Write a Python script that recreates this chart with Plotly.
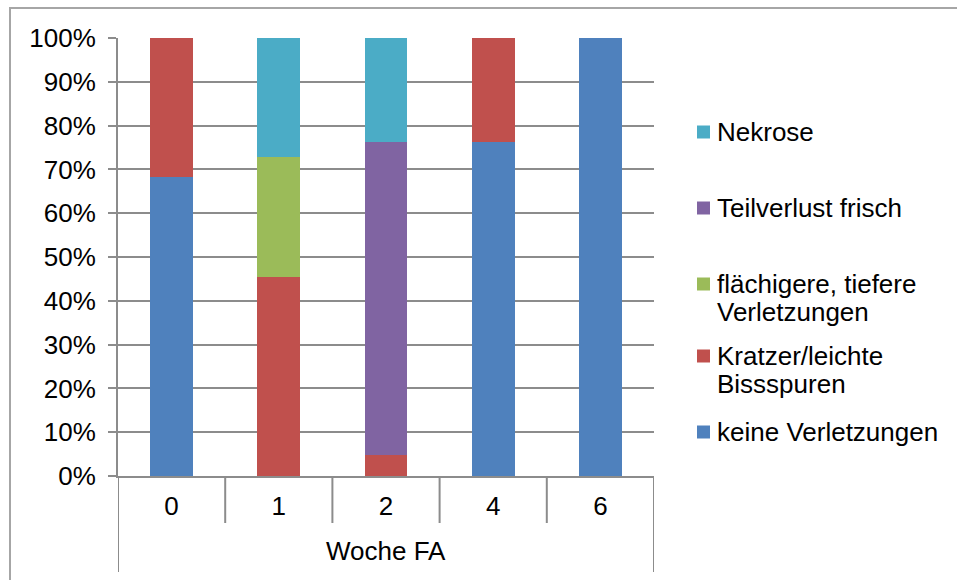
import plotly.graph_objects as go

# Wochen nach FA and share of injury classes (percent of animals)
categories = ["0", "1", "2", "4", "6"]
keine_verletzungen = [68.18, 0, 0, 76.19, 100]
kratzer = [31.82, 45.45, 4.76, 23.81, 0]
flaechig = [0, 27.27, 0, 0, 0]
teilverlust = [0, 0, 71.43, 0, 0]
nekrose = [0, 27.27, 23.81, 0, 0]
y_ticks = list(range(0, 101, 10))

series = [
    ("keine Verletzungen", keine_verletzungen, "#4F81BD"),
    ("Kratzer/leichte<br>Bissspuren", kratzer, "#C0504D"),
    ("flächigere, tiefere<br>Verletzungen", flaechig, "#9BBB59"),
    ("Teilverlust frisch", teilverlust, "#8064A2"),
    ("Nekrose", nekrose, "#4BACC6"),
]

W, H = 957, 580
L, R, T, B = 118, 654, 38, 476  # plot area in pixels
FONT = "Liberation Sans, Arial, sans-serif"
FS = 26
GRID = "#8c8c8c"


def px_x(x):
    return (x - L) / (R - L)


def px_y(y):
    return (B - y) / (B - T)


pos = list(range(len(categories)))
fig = go.Figure()
for name, vals, color in series:
    fig.add_trace(go.Bar(
        x=pos, y=vals, name=name, width=0.4,
        marker=dict(color=color, line=dict(width=0)),
        showlegend=False,
    ))

shapes = []
# outer chart frame (runs past the right and bottom edges)
shapes.append(dict(type="rect", xref="paper", yref="paper",
                   x0=px_x(10), x1=px_x(1000), y0=px_y(8), y1=px_y(640),
                   line=dict(color="#a6a6a6", width=2), layer="below"))
# category dividers below the axis
for i in range(len(categories) + 1):
    edge = i - 0.5
    outer = i in (0, len(categories))
    shapes.append(dict(type="line", xref="x", yref="paper",
                       x0=edge, x1=edge, y0=0, y1=px_y(572 if outer else 523),
                       line=dict(color=GRID, width=2)))

annotations = [dict(text="Woche FA", xref="paper", yref="paper",
                    x=0.5, y=px_y(551), showarrow=False,
                    xanchor="center", yanchor="middle",
                    font=dict(family=FONT, size=FS, color="#000"))]

# legend, top entry first
legend_rows = [
    ("Nekrose", "#4BACC6", [132]),
    ("Teilverlust frisch", "#8064A2", [208]),
    ("flächigere, tiefere", "#9BBB59", [284, 312], "Verletzungen"),
    ("Kratzer/leichte", "#C0504D", [356, 384], "Bissspuren"),
    ("keine Verletzungen", "#4F81BD", [432]),
]
for row in legend_rows:
    label, color, ys = row[0], row[1], row[2]
    lines = [label] + list(row[3:])
    shapes.append(dict(type="rect", xref="paper", yref="paper",
                       x0=px_x(697), x1=px_x(710),
                       y0=px_y(ys[0] - 6.5), y1=px_y(ys[0] + 6.5),
                       fillcolor=color, line=dict(width=0)))
    for txt, yy in zip(lines, ys):
        annotations.append(dict(text=txt, xref="paper", yref="paper",
                                x=px_x(715), y=px_y(yy), showarrow=False,
                                xanchor="left", yanchor="middle",
                                font=dict(family=FONT, size=FS, color="#000")))

fig.update_layout(
    width=W, height=H,
    margin=dict(l=L, r=W - R, t=T, b=H - B),
    barmode="stack", bargap=0.6,
    plot_bgcolor="white", paper_bgcolor="white",
    font=dict(family=FONT, size=FS, color="#000"),
    shapes=shapes, annotations=annotations,
    xaxis=dict(range=[-0.5, len(categories) - 0.5], tickvals=pos,
               ticktext=categories, showgrid=False, zeroline=False,
               showline=True, linecolor=GRID, linewidth=2,
               ticks="", ticklabelstandoff=6, fixedrange=True),
    yaxis=dict(range=[0, 100], tickvals=y_ticks,
               ticktext=[f"{v}%" for v in y_ticks],
               showgrid=True, gridcolor=GRID, gridwidth=2, zeroline=False,
               showline=True, linecolor=GRID, linewidth=2,
               ticks="outside", ticklen=8, tickcolor=GRID, tickwidth=2,
               ticklabelstandoff=7, fixedrange=True),
)

fig.write_html("out.html")
